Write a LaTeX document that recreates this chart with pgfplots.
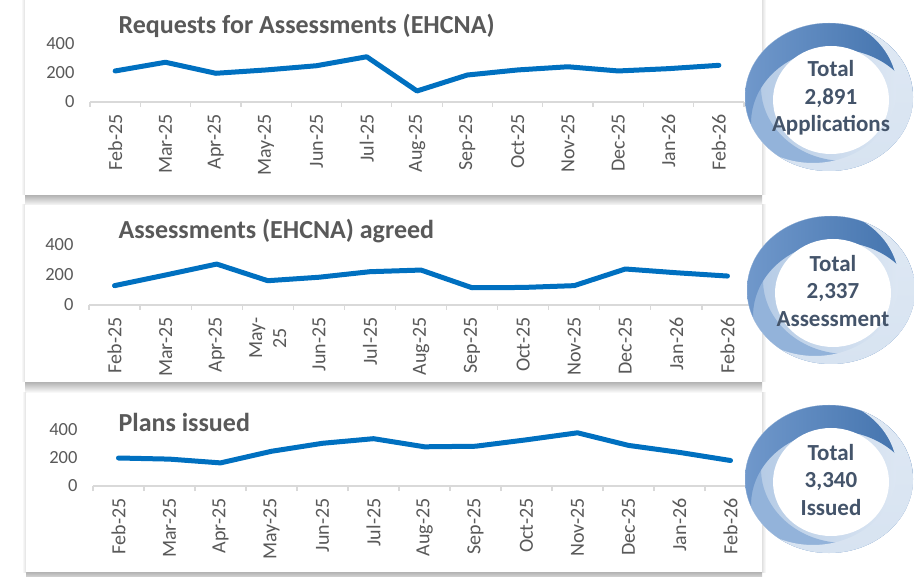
\documentclass[border=0pt]{standalone}
\usepackage{fontspec}
\setmainfont{Carlito}
\usepackage{pgfplots}
\pgfplotsset{compat=1.18}

\definecolor{lineblue}{HTML}{0070C0}
\definecolor{labelgray}{HTML}{595959}
\definecolor{axisgray}{HTML}{D9D9D9}
\definecolor{totaltext}{HTML}{44546A}
\definecolor{ringdark}{HTML}{3E6FAA}
\definecolor{ringdarklt}{HTML}{7098CB}
\definecolor{ringmid}{HTML}{93B3DA}
\definecolor{ringlight}{HTML}{D7E3F1}

\pgfplotsset{
  panel/.style={
    scale only axis, clip=false,
    xmin=-0.5, xmax=12.5, ymin=0, ymax=400,
    axis x line*=bottom, axis y line*=left,
    x axis line style={draw=axisgray, line width=1.2pt, -},
    y axis line style={draw=none},
    xtick={0,...,12},
    minor xtick={-0.5,0.5,...,12.5},
    major tick length=0pt, minor tick length=5pt, tick align=outside,
    minor x tick style={draw=axisgray, line width=1.2pt},
    major tick style={draw=none},
    ytick={0,200,400},
    yticklabel style={font=\fontsize{18.5}{21}\selectfont, text=labelgray},
    xticklabel style={font=\fontsize{20}{24}\selectfont, text=labelgray, rotate=90, anchor=east, align=center},
    xticklabel shift=9pt, yticklabel shift=12pt,
    /pgf/number format/assume math mode=true,
  },
  months/.style={xticklabels={Feb-25,Mar-25,Apr-25,May-25,Jun-25,Jul-25,Aug-25,Sep-25,Oct-25,Nov-25,Dec-25,Jan-26,Feb-26}},
  dataline/.style={line width=5pt, color=lineblue, line join=round, line cap=round},
}

% ring badge: #1 = centre x, #2 = centre y (pixels from top left), #3 = text
\newcommand{\ring}[3]{%
  \begin{scope}[shift={(#1pt,-#2pt)}]
    \begin{scope}
      \clip (0,0) ellipse [x radius=84pt, y radius=74pt];
      \shade[left color=ringmid!55!ringlight, right color=ringlight!75] (0,0) ellipse [x radius=84pt, y radius=74pt];
      \fill[ringmid, even odd rule] (0,0) ellipse [x radius=84pt, y radius=74pt] (16pt,10pt) ellipse [x radius=84pt, y radius=74pt];
      \shade[even odd rule, left color=ringdarklt, right color=ringdark] (0,0) ellipse [x radius=84pt, y radius=74pt] (6pt,-26pt) ellipse [x radius=84pt, y radius=74pt];
      \shade[even odd rule, top color=ringlight!80, bottom color=ringlight] (0,0) ellipse [x radius=84pt, y radius=74pt] (-16pt,8pt) ellipse [x radius=84pt, y radius=74pt];
    \end{scope}
    \fill[white] (2pt,-3pt) ellipse [x radius=58pt, y radius=54pt];
    \node[font=\fontsize{23}{27.5}\selectfont\bfseries, text=totaltext, align=center] at (2pt,-1pt) {#3};
  \end{scope}}

% card with a soft shadow: x1, y1 (top), x2, y2 (bottom)
\newcommand{\card}[4]{%
  \shade[top color=black!30, bottom color=white] (#1pt,-#4pt) rectangle (#3pt,-#4pt-11pt);
  \shade[left color=white, right color=black!12] (#1pt-4pt,-#2pt) rectangle (#1pt,-#4pt);
  \shade[left color=black!12, right color=white] (#3pt,-#2pt) rectangle (#3pt+4pt,-#4pt);
  \fill[white] (#1pt,-#2pt) rectangle (#3pt,-#4pt);}

\begin{document}
\begin{tikzpicture}
\path[use as bounding box, fill=white] (0,0) rectangle (914pt,-577pt);

\card{25}{-3}{762}{195}
\card{25}{205}{762}{382}
\card{26}{393}{762}{572}

% --- Panel 1: requests ---
\node[anchor=base west, font=\fontsize{26}{28}\selectfont\bfseries, text=labelgray] at (115pt,-34pt) {Requests for Assessments (EHCNA)};
\begin{axis}[panel, months, at={(90pt,-102pt)}, anchor=south west, width=654pt, height=58pt]
\addplot[dataline] coordinates {(0,214) (1,274) (2,198) (3,221) (4,250) (5,312) (6,76) (7,186) (8,221) (9,243) (10,214) (11,230) (12,253)};
\end{axis}

% --- Panel 2: assessments agreed ---
\node[anchor=base west, font=\fontsize{26}{28}\selectfont\bfseries, text=labelgray] at (115pt,-239pt) {Assessments (EHCNA) agreed};
\begin{axis}[panel, at={(89pt,-305pt)}, anchor=south west, width=664pt, height=60pt,
  xticklabels={Feb-25,Mar-25,Apr-25,{May-\\25},Jun-25,Jul-25,Aug-25,Sep-25,Oct-25,Nov-25,Dec-25,Jan-26,Feb-26}]
\addplot[dataline] coordinates {(0,129) (1,200) (2,273) (3,162) (4,185) (5,222) (6,233) (7,115) (8,117) (9,129) (10,240) (11,215) (12,193)};
\end{axis}

% --- Panel 3: plans issued ---
\node[anchor=base west, font=\fontsize{26}{28}\selectfont\bfseries, text=labelgray] at (115pt,-432pt) {Plans issued};
\begin{axis}[panel, months, at={(93pt,-486pt)}, anchor=south west, width=663pt, height=56pt]
\addplot[dataline] coordinates {(0,200) (1,192) (2,165) (3,248) (4,305) (5,338) (6,280) (7,284) (8,330) (9,380) (10,290) (11,240) (12,182)};
\end{axis}

\ring{829}{97}{Total\\2,891\\Applications}
\ring{831}{290}{Total\\2,337\\Assessment}
\ring{829}{479}{Total\\3,340\\Issued}
\end{tikzpicture}
\end{document}
